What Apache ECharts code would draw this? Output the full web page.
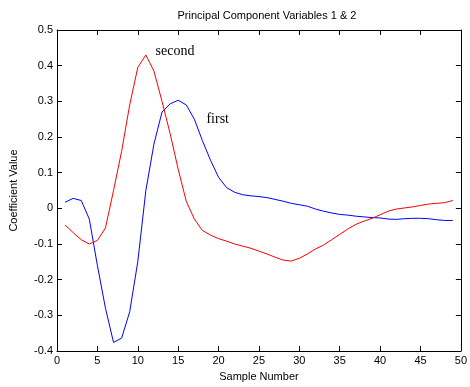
<!DOCTYPE html>
<html><head><meta charset="utf-8">
<script src="https://cdn.jsdelivr.net/npm/echarts@6/dist/echarts.min.js"></script>
<style>html,body{margin:0;padding:0;background:#fff}#c{width:470px;height:387px}</style>
</head><body><div id="c"></div>
<script>
const samples = Array.from({length:49}, (_, i) => i + 1);
const first = [0.017,0.028,0.022,-0.03,-0.16,-0.28,-0.376,-0.364,-0.29,-0.15,0.05,0.18,0.27,0.293,0.303,0.29,0.25,0.19,0.135,0.087,0.058,0.045,0.038,0.035,0.033,0.03,0.025,0.02,0.014,0.01,0.006,-0.002,-0.008,-0.013,-0.017,-0.019,-0.022,-0.024,-0.026,-0.027,-0.03,-0.031,-0.029,-0.028,-0.028,-0.029,-0.032,-0.034,-0.034];
const second = [-0.047,-0.068,-0.088,-0.1,-0.09,-0.055,0.05,0.16,0.29,0.395,0.43,0.385,0.3,0.21,0.11,0.02,-0.03,-0.062,-0.075,-0.085,-0.092,-0.1,-0.106,-0.112,-0.12,-0.128,-0.137,-0.145,-0.148,-0.14,-0.128,-0.114,-0.103,-0.088,-0.073,-0.058,-0.045,-0.036,-0.028,-0.018,-0.008,-0.002,0.001,0.004,0.008,0.012,0.014,0.016,0.022];
const xTicks = [0,5,10,15,20,25,30,35,40,45,50];
const yTicks = [-0.4,-0.3,-0.2,-0.1,0,0.1,0.2,0.3,0.4,0.5];
const labelFirst = {text:'first', x:18.5, y:0.25};
const labelSecond = {text:'second', x:12.2, y:0.44};

const chart = echarts.init(document.getElementById('c'));
const font = 'Liberation Sans, Arial, sans-serif';
const axCommon = {
  axisLine:{show:true, onZero:false, lineStyle:{color:'#000', width:1}},
  axisTick:{show:true, inside:true, length:5, lineStyle:{color:'#000'}},
  splitLine:{show:false}
};
chart.setOption({
  animation:false,
  backgroundColor:'#fff',
  title:{text:'Principal Component Variables 1 & 2', left:262, textAlign:'center', top:5,
    textStyle:{fontFamily:font, fontSize:11, fontWeight:'normal', color:'#000'}},
  grid:{left:57, right:3, top:30, bottom:36},
  xAxis:[
    Object.assign({type:'value', min:0, max:50, interval:5, position:'bottom',
      name:'Sample Number', nameLocation:'middle', nameGap:20,
      nameTextStyle:{fontFamily:font, fontSize:11, color:'#000'},
      axisLabel:{fontFamily:font, fontSize:11, color:'#000', margin:4,
        formatter:v => xTicks.includes(v) ? String(v) : ''}}, axCommon),
    Object.assign({type:'value', min:0, max:50, interval:5, position:'top', axisLabel:{show:false}}, axCommon)
  ],
  yAxis:[
    Object.assign({type:'value', min:-0.4, max:0.5, interval:0.1, position:'left',
      name:'Coefficient Value', nameLocation:'middle', nameGap:38,
      nameTextStyle:{fontFamily:font, fontSize:11, color:'#000'},
      axisLabel:{fontFamily:font, fontSize:11, color:'#000', margin:4,
        formatter:v => { const t = yTicks.find(q => Math.abs(q - v) < 1e-9); return t === undefined ? '' : (Math.abs(t) < 1e-9 ? '0' : String(t)); }}}, axCommon),
    Object.assign({type:'value', min:-0.4, max:0.5, interval:0.1, position:'right', axisLabel:{show:false}}, axCommon)
  ],
  series:[
    {type:'line', name:'first', data:samples.map((s,i)=>[s, first[i]]), showSymbol:false,
      lineStyle:{color:'#0000ff', width:1}, itemStyle:{color:'#0000ff'},
      markPoint:{symbol:'circle', symbolSize:0, silent:true,
        label:{show:true, position:'right', distance:0, formatter:labelFirst.text, fontFamily:'Liberation Serif, Times New Roman, serif', fontSize:14, color:'#000'},
        data:[{coord:[labelFirst.x, labelFirst.y]}]}},
    {type:'line', name:'second', data:samples.map((s,i)=>[s, second[i]]), showSymbol:false,
      lineStyle:{color:'#ff0000', width:1}, itemStyle:{color:'#ff0000'},
      markPoint:{symbol:'circle', symbolSize:0, silent:true,
        label:{show:true, position:'right', distance:0, formatter:labelSecond.text, fontFamily:'Liberation Serif, Times New Roman, serif', fontSize:14, color:'#000'},
        data:[{coord:[labelSecond.x, labelSecond.y]}]}}
  ]
});
</script></body></html>
